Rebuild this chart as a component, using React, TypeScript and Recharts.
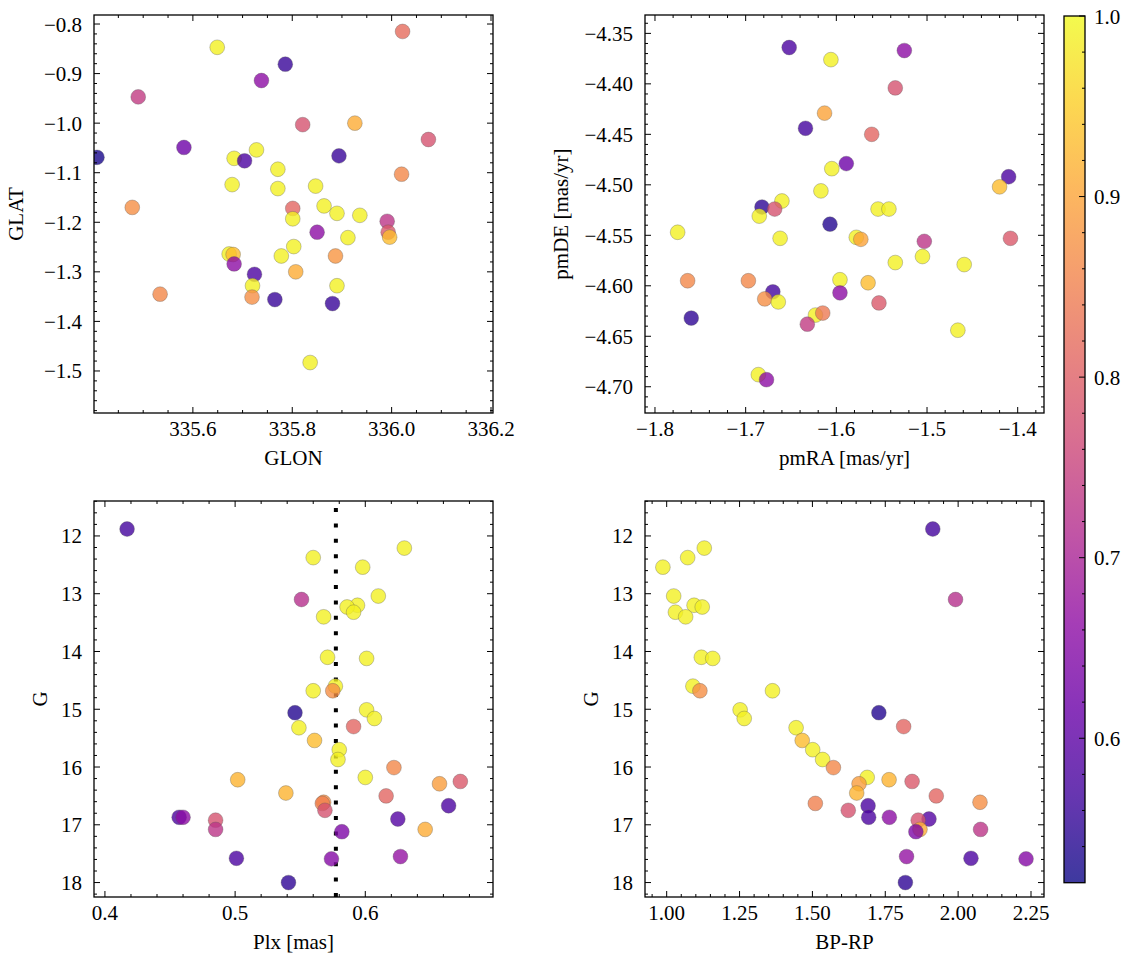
import React from 'react';
import { ScatterChart, Scatter, XAxis, YAxis, ReferenceLine } from 'recharts';

const FONT = '"Liberation Serif", "DejaVu Serif", serif';
const FS = 21;
const MINUS = '\u2212';

// sky positions (top left)
const glon = [
  336.022, 335.649, 335.786, 335.738, 335.49, 335.821, 335.926, 336.074, 335.582, 335.407,
  335.683, 335.704, 335.728, 335.894, 335.771, 335.679, 336.02, 335.771, 335.847, 335.478,
  335.801, 335.864, 335.89, 335.936, 335.801, 335.991, 335.993, 335.996, 335.85, 335.912,
  335.803, 335.673, 335.681, 335.683, 335.778, 335.887, 335.724, 335.807, 335.72, 335.89,
  335.719, 335.534, 335.765, 335.881, 335.836,
];
const glat = [
  -0.815, -0.847, -0.881, -0.914, -0.947, -1.003, -1.0, -1.033, -1.049, -1.069,
  -1.071, -1.076, -1.054, -1.066, -1.093, -1.124, -1.103, -1.132, -1.127, -1.17,
  -1.172, -1.167, -1.182, -1.186, -1.193, -1.198, -1.22, -1.23, -1.22, -1.231,
  -1.249, -1.264, -1.265, -1.284, -1.268, -1.268, -1.305, -1.3, -1.328, -1.328,
  -1.351, -1.345, -1.356, -1.364, -1.483,
];
const probSky = [
  0.82, 0.99, 0.56, 0.66, 0.74, 0.78, 0.91, 0.78, 0.62, 0.53,
  0.99, 0.58, 0.99, 0.56, 0.99, 0.99, 0.86, 0.99, 0.99, 0.87,
  0.81, 0.99, 0.99, 0.99, 0.99, 0.73, 0.79, 0.93, 0.66, 0.99,
  0.99, 0.99, 0.93, 0.66, 0.99, 0.88, 0.58, 0.91, 0.99, 0.99,
  0.87, 0.86, 0.56, 0.56, 0.99,
];

// proper motions (top right)
const pmRa = [
  -1.652, -1.606, -1.525, -1.535, -1.613, -1.634, -1.561, -1.589, -1.605, -1.41,
  -1.42, -1.617, -1.66, -1.682, -1.668, -1.685, -1.554, -1.542, -1.607, -1.775,
  -1.662, -1.578, -1.573, -1.503, -1.408, -1.505, -1.535, -1.459, -1.764, -1.697,
  -1.596, -1.565, -1.67, -1.679, -1.664, -1.596, -1.553, -1.76, -1.623, -1.615,
  -1.632, -1.466, -1.686, -1.677,
];
const pmDe = [
  -4.364, -4.376, -4.367, -4.404, -4.429, -4.444, -4.45, -4.479, -4.484, -4.492,
  -4.502, -4.506, -4.516, -4.522, -4.524, -4.531, -4.524, -4.524, -4.539, -4.547,
  -4.553, -4.552, -4.554, -4.556, -4.553, -4.571, -4.577, -4.579, -4.595, -4.595,
  -4.594, -4.597, -4.606, -4.613, -4.616, -4.607, -4.617, -4.632, -4.629, -4.627,
  -4.638, -4.644, -4.688, -4.693,
];
const probPm = [
  0.58, 0.99, 0.66, 0.78, 0.9, 0.57, 0.81, 0.62, 0.99, 0.58,
  0.93, 0.99, 0.99, 0.55, 0.78, 0.99, 0.99, 0.99, 0.54, 0.99,
  0.99, 0.99, 0.9, 0.73, 0.79, 0.99, 0.99, 0.99, 0.86, 0.86,
  0.99, 0.93, 0.57, 0.87, 0.99, 0.66, 0.79, 0.55, 0.99, 0.84,
  0.74, 0.99, 0.99, 0.66,
];

// photometry (bottom row)
const gMag = [
  11.88, 12.21, 12.375, 12.54, 13.04, 13.1, 13.2, 13.23, 13.32, 13.4,
  14.1, 14.12, 14.6, 14.68, 14.68, 15.01, 15.06, 15.16, 15.3, 15.32,
  15.54, 15.7, 15.87, 16.01, 16.18, 16.22, 16.25, 16.29, 16.45, 16.5,
  16.61, 16.63, 16.67, 16.75, 16.87, 16.87, 16.9, 16.92, 17.08, 17.08,
  17.12, 17.55, 17.58, 17.59, 18.0,
];
const plx = [
  0.417, 0.63, 0.56, 0.598, 0.61, 0.551, 0.594, 0.586, 0.591, 0.568,
  0.571, 0.601, 0.577, 0.575, 0.56, 0.601, 0.546, 0.607, 0.591, 0.549,
  0.561, 0.58, 0.579, 0.622, 0.6, 0.502, 0.673, 0.657, 0.539, 0.616,
  0.568, 0.567, 0.664, 0.569, 0.457, 0.46, 0.625, 0.485, 0.485, 0.646,
  0.582, 0.627, 0.501, 0.574, 0.541,
];
const bpRp = [
  1.913, 1.129, 1.072, 0.987, 1.024, 1.991, 1.094, 1.122, 1.03, 1.065,
  1.119, 1.158, 1.09, 1.114, 1.363, 1.252, 1.728, 1.266, 1.813, 1.444,
  1.465, 1.501, 1.535, 1.572, 1.688, 1.763, 1.842, 1.66, 1.652, 1.925,
  2.075, 1.51, 1.691, 1.623, 1.693, 1.764, 1.9, 1.863, 2.077, 1.869,
  1.855, 1.823, 2.044, 2.233, 1.819,
];
const probCmd = [
  0.57, 0.99, 0.99, 0.99, 0.99, 0.72, 0.99, 0.99, 0.99, 0.99,
  0.99, 0.99, 0.99, 0.87, 0.99, 0.99, 0.54, 0.99, 0.81, 0.99,
  0.93, 0.99, 0.99, 0.86, 0.99, 0.92, 0.79, 0.89, 0.92, 0.81,
  0.87, 0.85, 0.58, 0.78, 0.58, 0.66, 0.59, 0.78, 0.73, 0.91,
  0.64, 0.67, 0.58, 0.65, 0.55,
];

const plxMean = 0.5774;
const cbTicks = [0.6, 0.7, 0.8, 0.9, 1.0];
const CB_MIN = 0.52;
const CB_MAX = 1.0;

const PLASMA = [
  '#0d0887', '#41049d', '#6a00a8', '#8f0da4', '#b12a90', '#cc4778',
  '#e16462', '#f2844b', '#fca636', '#fcce25', '#f0f921',
];

function plasma(p: number) {
  const t = Math.min(1, Math.max(0, (p - CB_MIN) / (CB_MAX - CB_MIN)));
  const f = t * 10;
  const i = Math.min(9, Math.floor(f));
  const k = f - i;
  const a = PLASMA[i], b = PLASMA[i + 1];
  const ch = (s: string, o: number) => parseInt(s.slice(o, o + 2), 16);
  const mix = (o: number) => Math.round(ch(a, o) + (ch(b, o) - ch(a, o)) * k);
  return `rgb(${mix(1)},${mix(3)},${mix(5)})`;
}

function stepTicks(lo: number, hi: number, step: number) {
  const out: number[] = [];
  for (let i = Math.ceil(lo / step - 1e-9); i * step <= hi + 1e-9; i++) {
    out.push(+(i * step).toFixed(6));
  }
  return out;
}
const onStep = (v: number, step: number) => Math.abs(v / step - Math.round(v / step)) < 1e-6;
const fmt = (v: number, d: number) => {
  const s = Math.abs(v).toFixed(d);
  return v < 0 ? MINUS + s : s;
};

type Rect = { x: number; y: number; w: number; h: number };
const R1: Rect = { x: 94, y: 15, w: 399, h: 398 };
const R2: Rect = { x: 645, y: 15, w: 399, h: 398 };
const R3: Rect = { x: 94, y: 501, w: 399, h: 396 };
const R4: Rect = { x: 645, y: 501, w: 399, h: 396 };
const CB = { x: 1064, top: 16, bottom: 882.7, w: 21 };

const L = 90, T = 10, RM = 30, B = 60;

const Dot = (props: any) => {
  const { cx, cy, payload } = props;
  if (cx == null || cy == null) return <g />;
  return (
    <circle cx={cx} cy={cy} r={7.4} fill={plasma(payload.p)} fillOpacity={0.8}
      stroke="#555" strokeOpacity={0.55} strokeWidth={0.6} />
  );
};

const XTick = (props: any) => {
  const { x, y, payload, h, major, digits } = props;
  const v = payload.value;
  const isMajor = onStep(v, major);
  const len = isMajor ? 6 : 3;
  return (
    <g>
      <line x1={x} x2={x} y1={y} y2={y - len} stroke="#000" strokeWidth={1} />
      <line x1={x} x2={x} y1={y - h} y2={y - h + len} stroke="#000" strokeWidth={1} />
      {isMajor && (
        <text x={x} y={y + 23} textAnchor="middle" fontFamily={FONT} fontSize={FS} fill="#000">
          {fmt(v, digits)}
        </text>
      )}
    </g>
  );
};

const YTick = (props: any) => {
  const { x, y, payload, w, major, digits } = props;
  const v = payload.value;
  const isMajor = onStep(v, major);
  const len = isMajor ? 6 : 3;
  return (
    <g>
      <line x1={x} x2={x + len} y1={y} y2={y} stroke="#000" strokeWidth={1} />
      <line x1={x + w} x2={x + w - len} y1={y} y2={y} stroke="#000" strokeWidth={1} />
      {isMajor && (
        <text x={x - 12} y={y + 7.5} textAnchor="end" fontFamily={FONT} fontSize={FS} fill="#000">
          {fmt(v, digits)}
        </text>
      )}
    </g>
  );
};

type PanelProps = {
  rect: Rect;
  data: { x: number; y: number; p: number }[];
  xDomain: [number, number];
  yDomain: [number, number];
  xMajor: number; xMinor: number; xDigits: number;
  yMajor: number; yMinor: number; yDigits: number;
  reversed?: boolean;
  children?: React.ReactNode;
};

const Panel = ({ rect, data, xDomain, yDomain, xMajor, xMinor, xDigits, yMajor, yMinor, yDigits, reversed, children }: PanelProps) => {
  const xt = stepTicks(xDomain[0], xDomain[1], xMinor);
  const yt = stepTicks(yDomain[0], yDomain[1], yMinor);
  return (
    <div style={{ position: 'absolute', left: rect.x - L, top: rect.y - T }}>
      <ScatterChart width={rect.w + L + RM} height={rect.h + T + B}
        margin={{ top: T, right: RM, bottom: 0, left: 0 }}>
        <XAxis type="number" dataKey="x" domain={xDomain} allowDataOverflow ticks={xt} interval={0}
          tickLine={false} axisLine={false} tickSize={0} tickMargin={0} height={B}
          tick={(p: any) => <XTick {...p} h={rect.h} major={xMajor} digits={xDigits} />} />
        <YAxis type="number" dataKey="y" domain={yDomain} allowDataOverflow reversed={reversed} ticks={yt}
          interval={0} tickLine={false} axisLine={false} tickSize={0} tickMargin={0} width={L}
          tick={(p: any) => <YTick {...p} w={rect.w} major={yMajor} digits={yDigits} />} />
        {children}
        <Scatter data={data} shape={Dot} isAnimationActive={false} />
      </ScatterChart>
    </div>
  );
};

const skyData = glon.map((x, i) => ({ x, y: glat[i], p: probSky[i] }));
const pmData = pmRa.map((x, i) => ({ x, y: pmDe[i], p: probPm[i] }));
const plxData = plx.map((x, i) => ({ x, y: gMag[i], p: probCmd[i] }));
const cmdData = bpRp.map((x, i) => ({ x, y: gMag[i], p: probCmd[i] }));

const cbY = (v: number) => CB.bottom - ((v - CB_MIN) / (CB_MAX - CB_MIN)) * (CB.bottom - CB.top);

const XTitle = ({ r, text }: { r: Rect; text: string }) => (
  <text x={r.x + r.w / 2} y={r.y + r.h + 52} textAnchor="middle" fontFamily={FONT} fontSize={FS}>{text}</text>
);
const YTitle = ({ r, text, off }: { r: Rect; text: string; off: number }) => {
  const x = r.x - off;
  const y = r.y + r.h / 2;
  return (
    <text x={x} y={y} transform={`rotate(-90 ${x} ${y})`} textAnchor="middle" fontFamily={FONT} fontSize={FS}>{text}</text>
  );
};

export default function App() {
  const cbMinor = stepTicks(0.54, 1.0, 0.02);
  return (
    <div style={{ position: 'absolute', left: 0, top: 0, width: 1133, height: 965, background: '#fff' }}>
      <Panel rect={R1} data={skyData} xDomain={[335.401, 336.204]} yDomain={[-1.5848, -0.7818]}
        xMajor={0.2} xMinor={0.05} xDigits={1} yMajor={0.1} yMinor={0.02} yDigits={1} />
      <Panel rect={R2} data={pmData} xDomain={[-1.811, -1.371]} yDomain={[-4.726, -4.3318]}
        xMajor={0.1} xMinor={0.02} xDigits={1} yMajor={0.05} yMinor={0.01} yDigits={2} />
      <Panel rect={R3} data={plxData} xDomain={[0.3916, 0.6981]} yDomain={[11.395, 18.25]} reversed
        xMajor={0.1} xMinor={0.02} xDigits={1} yMajor={1} yMinor={0.2} yDigits={0}>
        <ReferenceLine x={plxMean} stroke="#000" strokeWidth={4} strokeDasharray="4 11.4" />
      </Panel>
      <Panel rect={R4} data={cmdData} xDomain={[0.9256, 2.2946]} yDomain={[11.395, 18.25]} reversed
        xMajor={0.25} xMinor={0.05} xDigits={2} yMajor={1} yMinor={0.2} yDigits={0} />

      <svg width={1133} height={965} style={{ position: 'absolute', left: 0, top: 0, pointerEvents: 'none' }}>
        <defs>
          <linearGradient id="plasmaGrad" x1="0" y1="1" x2="0" y2="0">
            {PLASMA.map((c, i) => (
              <stop key={i} offset={i / 10} stopColor={c} stopOpacity={0.8} />
            ))}
          </linearGradient>
        </defs>
        {[R1, R2, R3, R4].map((r, i) => (
          <rect key={i} x={r.x} y={r.y} width={r.w} height={r.h} fill="none" stroke="#000" strokeWidth={1.3} />
        ))}
        <XTitle r={R1} text="GLON" />
        <YTitle r={R1} text="GLAT" off={71} />
        <XTitle r={R2} text="pmRA [mas/yr]" />
        <YTitle r={R2} text="pmDE [mas/yr]" off={77} />
        <XTitle r={R3} text="Plx [mas]" />
        <YTitle r={R3} text="G" off={47} />
        <XTitle r={R4} text="BP-RP" />
        <YTitle r={R4} text="G" off={47} />

        <rect x={CB.x} y={CB.top} width={CB.w} height={CB.bottom - CB.top} fill="url(#plasmaGrad)" stroke="none" />
        {cbMinor.map((v) => {
          const major = onStep(v, 0.1);
          const y = cbY(v);
          return (
            <line key={v} x1={CB.x + CB.w} x2={CB.x + CB.w - (major ? 6 : 3)} y1={y} y2={y} stroke="#000" strokeWidth={1} />
          );
        })}
        {cbTicks.map((v) => (
          <text key={v} x={CB.x + CB.w + 9} y={cbY(v) + 7.5} fontFamily={FONT} fontSize={FS}>{v.toFixed(1)}</text>
        ))}
        <rect x={CB.x} y={CB.top} width={CB.w} height={CB.bottom - CB.top} fill="none" stroke="#000" strokeWidth={1.3} />
      </svg>
    </div>
  );
}
